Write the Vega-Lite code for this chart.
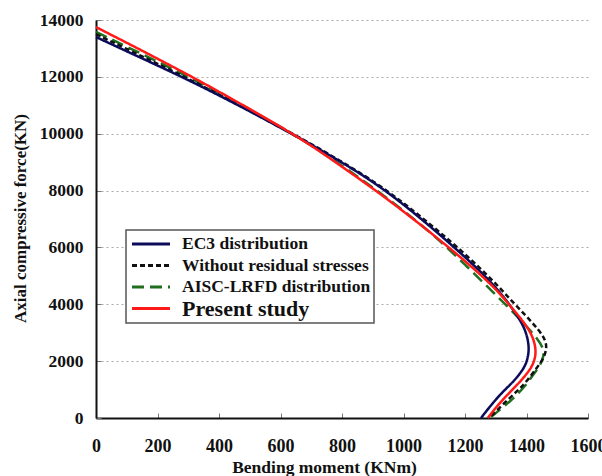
{
  "$schema": "https://vega.github.io/schema/vega-lite/v6.json",
  "width": 492,
  "height": 398,
  "autosize": {"type": "none"},
  "padding": {"left": 96, "top": 20, "right": 14, "bottom": 58},
  "background": "white",
  "config": {
    "view": {"stroke": null},
    "font": "Liberation Serif",
    "legend": {"strokeWidth": 1.5}
  },
  "data": {
    "values": [
      {"s": "AISC-LRFD distribution", "M": 0, "P": 13580},
      {"s": "AISC-LRFD distribution", "M": 100, "P": 13060},
      {"s": "AISC-LRFD distribution", "M": 200, "P": 12540},
      {"s": "AISC-LRFD distribution", "M": 300, "P": 12000},
      {"s": "AISC-LRFD distribution", "M": 400, "P": 11440},
      {"s": "AISC-LRFD distribution", "M": 500, "P": 10850},
      {"s": "AISC-LRFD distribution", "M": 600, "P": 10240},
      {"s": "AISC-LRFD distribution", "M": 700, "P": 9600},
      {"s": "AISC-LRFD distribution", "M": 800, "P": 8880},
      {"s": "AISC-LRFD distribution", "M": 900, "P": 8110},
      {"s": "AISC-LRFD distribution", "M": 1000, "P": 7300},
      {"s": "AISC-LRFD distribution", "M": 1100, "P": 6420},
      {"s": "AISC-LRFD distribution", "M": 1200, "P": 5400},
      {"s": "AISC-LRFD distribution", "M": 1300, "P": 4330},
      {"s": "AISC-LRFD distribution", "M": 1350, "P": 3800},
      {"s": "AISC-LRFD distribution", "M": 1400, "P": 3230},
      {"s": "AISC-LRFD distribution", "M": 1435, "P": 2800},
      {"s": "AISC-LRFD distribution", "M": 1455, "P": 2450},
      {"s": "AISC-LRFD distribution", "M": 1457, "P": 2200},
      {"s": "AISC-LRFD distribution", "M": 1445, "P": 1850},
      {"s": "AISC-LRFD distribution", "M": 1420, "P": 1500},
      {"s": "AISC-LRFD distribution", "M": 1398, "P": 1150},
      {"s": "AISC-LRFD distribution", "M": 1355, "P": 650},
      {"s": "AISC-LRFD distribution", "M": 1280, "P": 0},
      {"s": "Without residual stresses", "M": 0, "P": 13500},
      {"s": "Without residual stresses", "M": 100, "P": 12980},
      {"s": "Without residual stresses", "M": 200, "P": 12460},
      {"s": "Without residual stresses", "M": 300, "P": 11930},
      {"s": "Without residual stresses", "M": 400, "P": 11380},
      {"s": "Without residual stresses", "M": 500, "P": 10810},
      {"s": "Without residual stresses", "M": 600, "P": 10230},
      {"s": "Without residual stresses", "M": 700, "P": 9640},
      {"s": "Without residual stresses", "M": 800, "P": 9010},
      {"s": "Without residual stresses", "M": 900, "P": 8350},
      {"s": "Without residual stresses", "M": 1000, "P": 7570},
      {"s": "Without residual stresses", "M": 1100, "P": 6700},
      {"s": "Without residual stresses", "M": 1200, "P": 5780},
      {"s": "Without residual stresses", "M": 1300, "P": 4740},
      {"s": "Without residual stresses", "M": 1340, "P": 4250},
      {"s": "Without residual stresses", "M": 1398, "P": 3600},
      {"s": "Without residual stresses", "M": 1440, "P": 3100},
      {"s": "Without residual stresses", "M": 1462, "P": 2743},
      {"s": "Without residual stresses", "M": 1466, "P": 2450},
      {"s": "Without residual stresses", "M": 1456, "P": 2100},
      {"s": "Without residual stresses", "M": 1436, "P": 1800},
      {"s": "Without residual stresses", "M": 1398, "P": 1250},
      {"s": "Without residual stresses", "M": 1370, "P": 950},
      {"s": "Without residual stresses", "M": 1325, "P": 500},
      {"s": "Without residual stresses", "M": 1279, "P": 0},
      {"s": "EC3 distribution", "M": 0, "P": 13400},
      {"s": "EC3 distribution", "M": 100, "P": 12900},
      {"s": "EC3 distribution", "M": 200, "P": 12400},
      {"s": "EC3 distribution", "M": 300, "P": 11890},
      {"s": "EC3 distribution", "M": 400, "P": 11350},
      {"s": "EC3 distribution", "M": 500, "P": 10790},
      {"s": "EC3 distribution", "M": 600, "P": 10210},
      {"s": "EC3 distribution", "M": 700, "P": 9620},
      {"s": "EC3 distribution", "M": 800, "P": 8990},
      {"s": "EC3 distribution", "M": 900, "P": 8320},
      {"s": "EC3 distribution", "M": 1000, "P": 7520},
      {"s": "EC3 distribution", "M": 1100, "P": 6620},
      {"s": "EC3 distribution", "M": 1200, "P": 5670},
      {"s": "EC3 distribution", "M": 1300, "P": 4640},
      {"s": "EC3 distribution", "M": 1366, "P": 3683},
      {"s": "EC3 distribution", "M": 1398, "P": 3095},
      {"s": "EC3 distribution", "M": 1409, "P": 2508},
      {"s": "EC3 distribution", "M": 1405, "P": 2150},
      {"s": "EC3 distribution", "M": 1396, "P": 1804},
      {"s": "EC3 distribution", "M": 1360, "P": 1300},
      {"s": "EC3 distribution", "M": 1325, "P": 950},
      {"s": "EC3 distribution", "M": 1288, "P": 500},
      {"s": "EC3 distribution", "M": 1252, "P": 0},
      {"s": "Present study", "M": 0, "P": 13750},
      {"s": "Present study", "M": 100, "P": 13200},
      {"s": "Present study", "M": 200, "P": 12640},
      {"s": "Present study", "M": 300, "P": 12070},
      {"s": "Present study", "M": 400, "P": 11480},
      {"s": "Present study", "M": 500, "P": 10870},
      {"s": "Present study", "M": 600, "P": 10250},
      {"s": "Present study", "M": 700, "P": 9590},
      {"s": "Present study", "M": 800, "P": 8840},
      {"s": "Present study", "M": 900, "P": 8080},
      {"s": "Present study", "M": 1000, "P": 7270},
      {"s": "Present study", "M": 1100, "P": 6420},
      {"s": "Present study", "M": 1200, "P": 5530},
      {"s": "Present study", "M": 1300, "P": 4560},
      {"s": "Present study", "M": 1342, "P": 4000},
      {"s": "Present study", "M": 1390, "P": 3400},
      {"s": "Present study", "M": 1420, "P": 2900},
      {"s": "Present study", "M": 1431, "P": 2420},
      {"s": "Present study", "M": 1428, "P": 2100},
      {"s": "Present study", "M": 1418, "P": 1800},
      {"s": "Present study", "M": 1390, "P": 1400},
      {"s": "Present study", "M": 1350, "P": 950},
      {"s": "Present study", "M": 1310, "P": 500},
      {"s": "Present study", "M": 1274, "P": 0}
    ]
  },
  "mark": {"type": "line", "strokeWidth": 2.5, "interpolate": "basis"},
  "encoding": {
    "x": {
      "field": "M", "type": "quantitative",
      "scale": {"domain": [0, 1600], "nice": false},
      "axis": {
        "values": [0, 200, 400, 600, 800, 1000, 1200, 1400, 1600],
        "format": "d",
        "title": "Bending moment (KNm)",
        "grid": false,
        "domainColor": "#111", "domainWidth": 2,
        "tickColor": "#777", "tickSize": -5, "tickWidth": 1,
        "labelPadding": 24,
        "labelFont": "Liberation Serif", "labelFontWeight": "bold", "labelFontSize": 18, "labelColor": "#111",
        "labelOverlap": false, "labelFlush": false,
        "titleFont": "Liberation Serif", "titleFontWeight": "bold", "titleFontSize": 17.5, "titleColor": "#111",
        "titleX": 228, "titleY": 49, "titleBaseline": "middle"
      }
    },
    "y": {
      "field": "P", "type": "quantitative",
      "scale": {"domain": [0, 14000], "nice": false},
      "axis": {
        "values": [0, 2000, 4000, 6000, 8000, 10000, 12000, 14000],
        "format": "d",
        "title": "Axial compressive force(KN)",
        "grid": true, "gridDash": [2, 3], "gridColor": "#aaa", "gridWidth": 1.2,
        "domainColor": "#111", "domainWidth": 2,
        "tickColor": "#777", "tickSize": -5, "tickWidth": 1,
        "labelPadding": 18,
        "labelFont": "Liberation Serif", "labelFontWeight": "bold", "labelFontSize": 17.5, "labelColor": "#111",
        "titleFont": "Liberation Serif", "titleFontWeight": "bold", "titleFontSize": 17, "titleColor": "#111",
        "titleAngle": -90, "titleX": -76, "titleY": 198, "titleAlign": "center", "titleBaseline": "middle"
      }
    },
    "order": {"field": "P", "sort": "descending"},
    "color": {
      "field": "s", "type": "nominal",
      "scale": {
        "domain": ["EC3 distribution", "Without residual stresses", "AISC-LRFD distribution", "Present study"],
        "range": ["#0b0b5a", "#111111", "#1f6f1f", "#ff1a1a"]
      },
      "legend": {
        "title": null,
        "orient": "none", "legendX": 30, "legendY": 210,
        "strokeColor": "#555",
        "fillColor": "white",
        "padding": 3,
        "rowPadding": 1.5,
        "symbolType": "M-2,0H2",
        "symbolSize": 361,
        "symbolOffset": 11,
        "symbolStrokeWidth": 3,
        "labelOffset": 20,
        "labelFont": "Liberation Serif", "labelFontWeight": "bold",
        "labelFontSize": {"expr": "datum.label == 'Present study' ? 22 : 17.5"},
        "labelColor": "#111",
        "labelLimit": 300
      }
    },
    "strokeDash": {
      "field": "s", "type": "nominal",
      "scale": {
        "domain": ["EC3 distribution", "Without residual stresses", "AISC-LRFD distribution", "Present study"],
        "range": [[1, 0], [5, 3], [12, 6], [1, 0]]
      },
      "legend": null
    }
  }
}
